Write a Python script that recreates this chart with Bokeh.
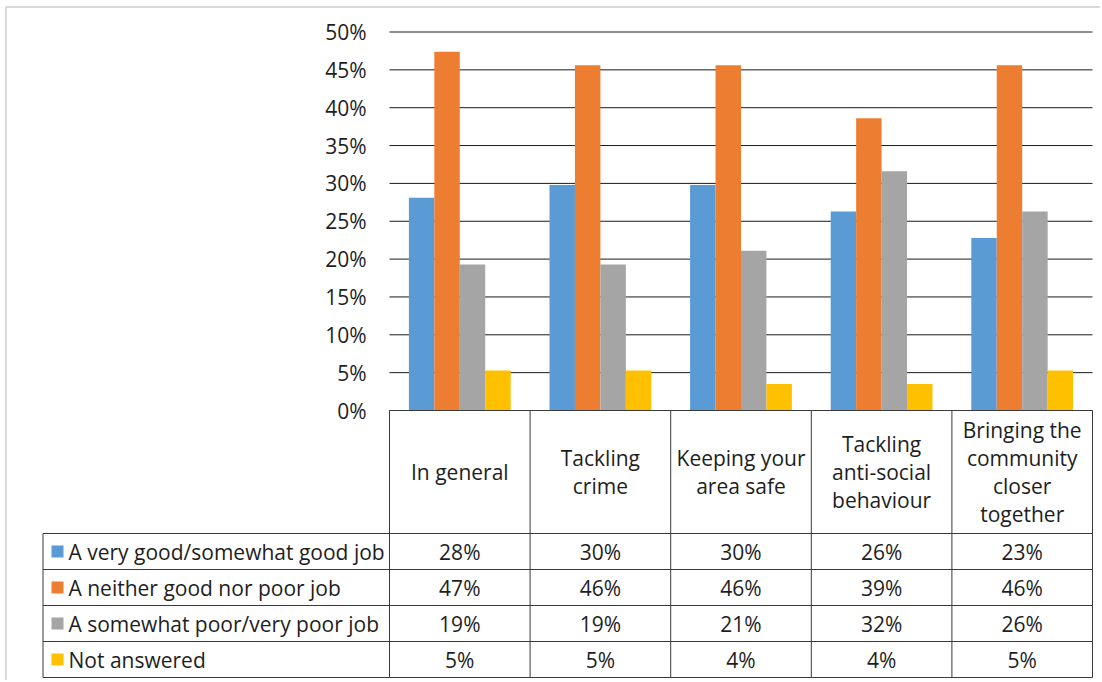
from bokeh.plotting import figure
from bokeh.models import Range1d
from bokeh.embed import file_html
from bokeh.resources import INLINE
from bokeh.core.properties import value

# ---------------- data ----------------
categories = ["In general", "Tackling crime", "Keeping your area safe",
              "Tackling anti-social behaviour", "Bringing the community closer together"]
header_labels = ["In general", "Tackling\ncrime", "Keeping your\narea safe",
                 "Tackling\nanti-social\nbehaviour", "Bringing the\ncommunity\ncloser\ntogether"]
series_names = ["A very good/somewhat good job", "A neither good nor poor job",
                "A somewhat poor/very poor job", "Not answered"]
good = [28.1, 29.8, 29.8, 26.3, 22.8]
neither = [47.4, 45.6, 45.6, 38.6, 45.6]
poor = [19.3, 19.3, 21.1, 31.6, 26.3]
not_answered = [5.3, 5.3, 3.5, 3.5, 5.3]
y_ticks = [0, 5, 10, 15, 20, 25, 30, 35, 40, 45, 50]
colors = ["#5B9BD5", "#ED7D31", "#A5A5A5", "#FFC000"]

series = [good, neither, poor, not_answered]

# ---------------- style / layout (screen pixels) ----------------
FONT = "Open Sans"
FS = "21px"
TXT = "#1e1e1e"
GRID = "#1a1a1a"
TLINE = "#3a3a3a"
BORDER = "#d9d9d9"
W, H = 1100, 680
PX_L, PX_R = 389.0, 1092.0        # plot area left/right
PX_TOP, PX_ZERO = 31.5, 410.0     # y of 50% and 0%
YMAX = 50.0
ncol = len(categories)
COLPX = (PX_R - PX_L) / ncol
PXPCT = (PX_ZERO - PX_TOP) / YMAX
BAR_W = 0.181
offsets = [-1.5 * BAR_W, -0.5 * BAR_W, 0.5 * BAR_W, 1.5 * BAR_W]


def sx(px):  # screen x -> data x
    return (px - PX_L) / COLPX


def sy(py):  # screen y -> data y
    return (PX_ZERO - py) / PXPCT


p = figure(width=W, height=H,
           x_range=Range1d(sx(0), sx(W)), y_range=Range1d(sy(H), sy(0)),
           output_backend="svg", toolbar_location=None, min_border=0,
           x_axis_location=None, y_axis_location=None)
p.grid.visible = False
p.outline_line_color = None

# chart border (light gray)
p.segment(x0=[sx(5.5), sx(5)], y0=[sy(6.5), sy(6.5)], x1=[sx(5.5), sx(W)], y1=[sy(H), sy(6.5)],
          line_color=BORDER, line_width=2)

# gridlines + y tick labels
p.segment(x0=[0] * len(y_ticks), y0=y_ticks, x1=[ncol] * len(y_ticks), y1=y_ticks,
          line_color=GRID, line_width=1)
p.text(x=[sx(366)] * len(y_ticks), y=y_ticks, text=["%d%%" % t for t in y_ticks],
       text_align="right", text_baseline="middle",
       text_font=value(FONT), text_font_size=FS, text_color=TXT)

# bars
for s, off, c in zip(series, offsets, colors):
    p.vbar(x=[i + 0.5 + off for i in range(ncol)], top=s, bottom=0, width=BAR_W,
           fill_color=c, line_color=None)

# ---------------- data table ----------------
header_bot = 533.0
row_h = 36.0
n_rows = len(series_names)
tab_bot = header_bot + n_rows * row_h
legend_left = sx(42.5)

hx0 = [0] + [legend_left] * (n_rows + 1)
hx1 = [ncol] * (n_rows + 2)
hy = [0] + [sy(header_bot + i * row_h) for i in range(n_rows + 1)]
p.segment(x0=hx0, y0=hy, x1=hx1, y1=hy, line_color=TLINE, line_width=1)
vx = list(range(ncol + 1)) + [legend_left]
vy0 = [0] * (ncol + 1) + [sy(header_bot)]
vy1 = [sy(tab_bot)] * (ncol + 2)
p.segment(x0=vx, y0=vy0, x1=vx, y1=vy1, line_color=TLINE, line_width=1)

# header texts
p.text(x=[i + 0.5 for i in range(ncol)], y=[sy((PX_ZERO + header_bot) / 2)] * ncol,
       text=header_labels, text_align="center", text_baseline="middle",
       text_font=value(FONT), text_font_size=FS, text_color=TXT, text_line_height=1.01)

# value cells
cx, cy, ct = [], [], []
for r, s in enumerate(series):
    for i, v in enumerate(s):
        cx.append(i + 0.5)
        cy.append(sy(header_bot + r * row_h + row_h / 2))
        ct.append("%d%%" % int(v + 0.5))
p.text(x=cx, y=cy, text=ct, text_align="center", text_baseline="middle",
       text_font=value(FONT), text_font_size=FS, text_color=TXT)

# legend keys + names
ry = [sy(header_bot + r * row_h + row_h / 2) for r in range(n_rows)]
p.rect(x=[sx(57)] * n_rows, y=ry, width=12, height=12,
       width_units="screen", height_units="screen", fill_color=colors, line_color=None)
p.text(x=[sx(68)] * n_rows, y=ry, text=series_names,
       text_align="left", text_baseline="middle",
       text_font=value(FONT), text_font_size=FS, text_color=TXT)

open("out.html", "w").write(file_html(p, INLINE))
